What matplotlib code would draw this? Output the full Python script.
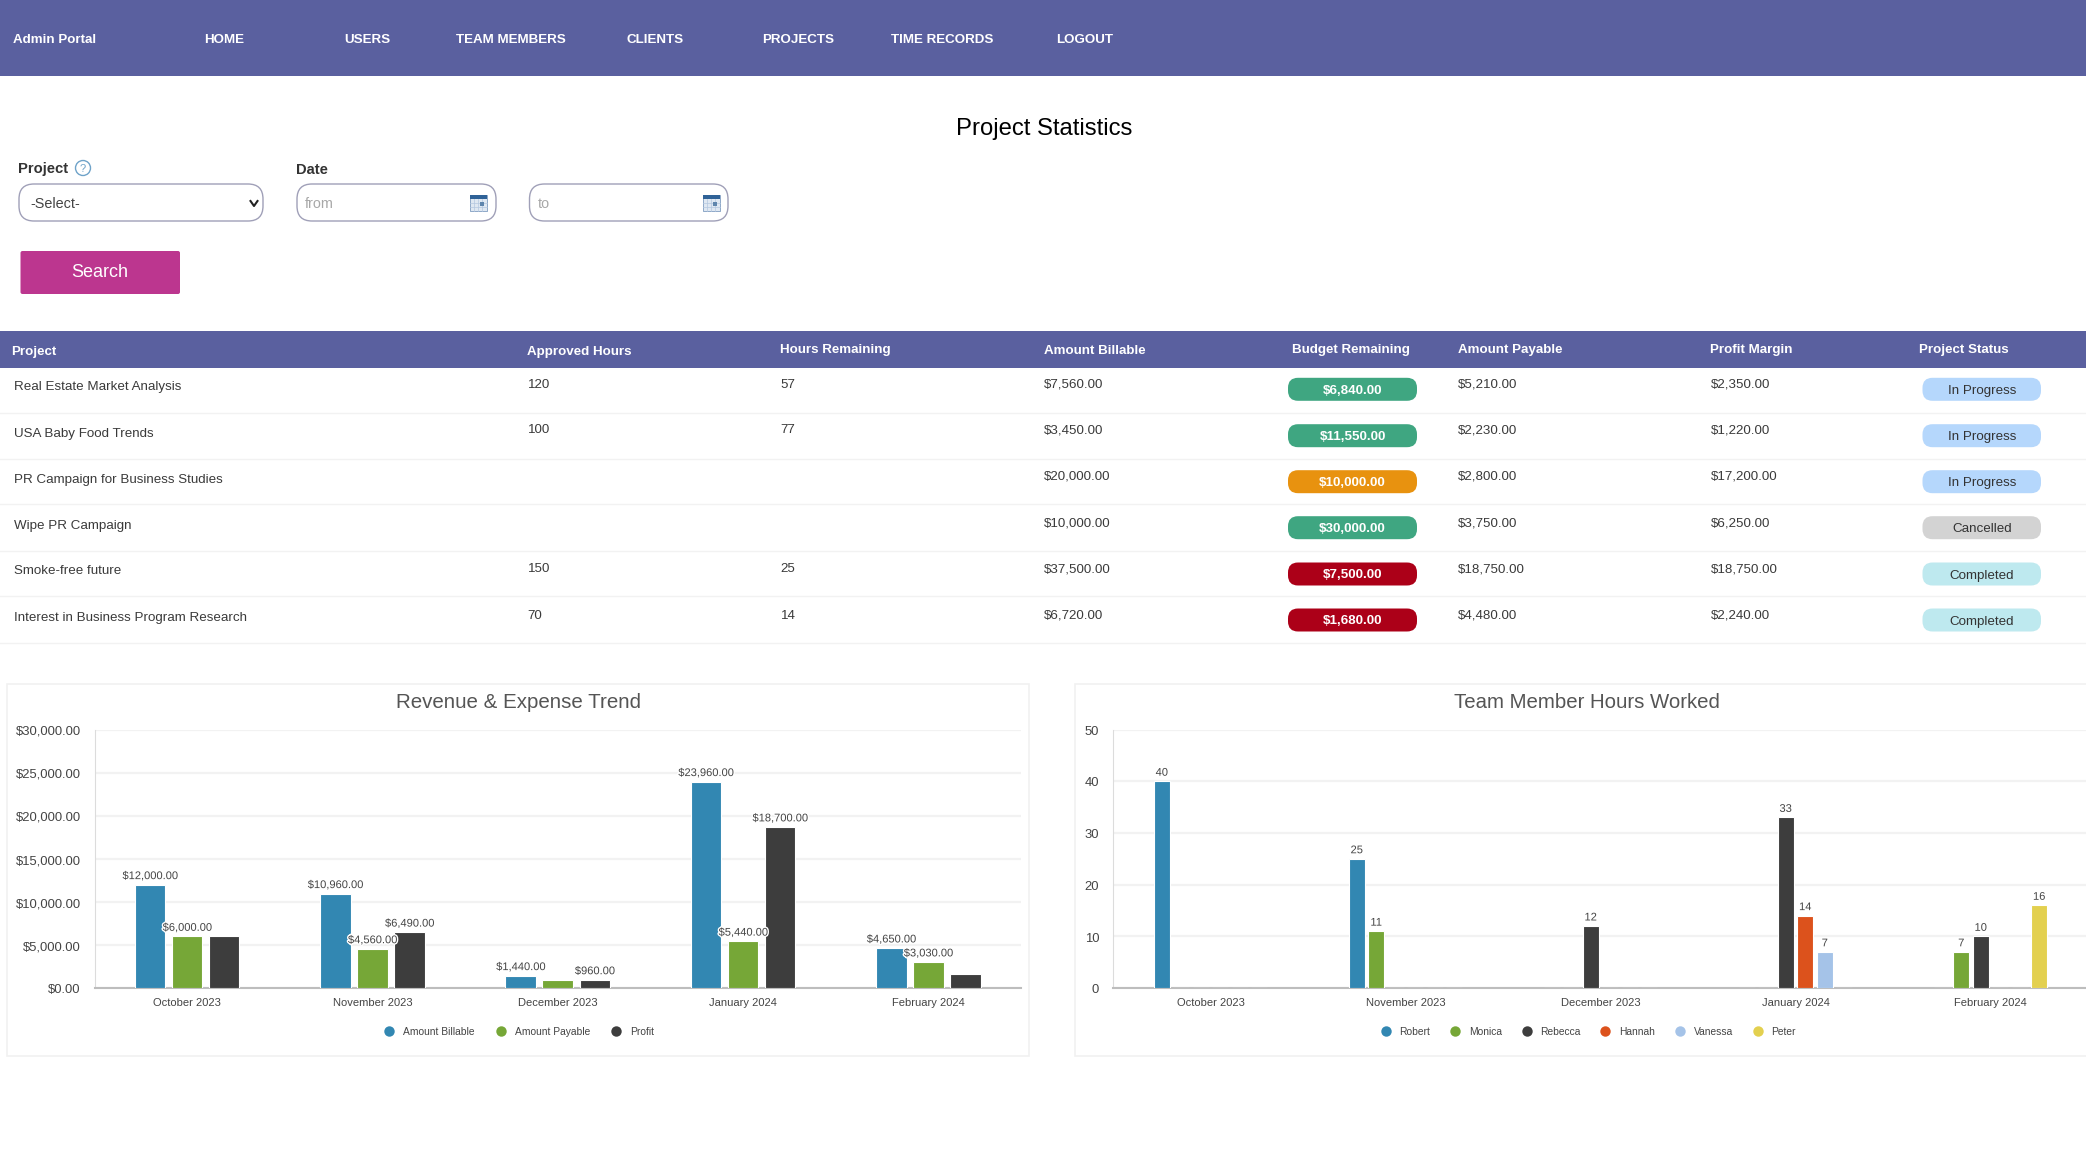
import matplotlib
matplotlib.use("Agg")
import matplotlib.pyplot as plt
import matplotlib.patheffects as pe
from matplotlib.lines import Line2D
from matplotlib.patches import FancyBboxPatch, Rectangle, Circle
from matplotlib.transforms import ScaledTranslation
import numpy as np

plt.rcParams["font.family"] = ["Liberation Sans", "DejaVu Sans"]

W, H = 2086, 1173

# ── Data ──────────────────────────────────────────────────────────────────────
nav_items = ["HOME", "USERS", "TEAM MEMBERS", "CLIENTS", "PROJECTS", "TIME RECORDS", "LOGOUT"]

table_headers = ["Project", "Approved Hours", "Hours Remaining", "Amount Billable",
                 "Budget Remaining", "Amount Payable", "Profit Margin", "Project Status"]
projects = ["Real Estate Market Analysis", "USA Baby Food Trends", "PR Campaign for Business Studies",
            "Wipe PR Campaign", "Smoke-free future", "Interest in Business Program Research"]
approved_hours = ["120", "100", "", "", "150", "70"]
hours_remaining = ["57", "77", "", "", "25", "14"]
amount_billable = ["$7,560.00", "$3,450.00", "$20,000.00", "$10,000.00", "$37,500.00", "$6,720.00"]
budget_remaining = ["$6,840.00", "$11,550.00", "$10,000.00", "$30,000.00", "$7,500.00", "$1,680.00"]
budget_colors = ["#3fa681", "#3fa681", "#e8920f", "#3fa681", "#ac0018", "#ac0018"]
amount_payable = ["$5,210.00", "$2,230.00", "$2,800.00", "$3,750.00", "$18,750.00", "$4,480.00"]
profit_margin = ["$2,350.00", "$1,220.00", "$17,200.00", "$6,250.00", "$18,750.00", "$2,240.00"]
project_status = ["In Progress", "In Progress", "In Progress", "Cancelled", "Completed", "Completed"]

months = ["October 2023", "November 2023", "December 2023", "January 2024", "February 2024"]

rev_billable = [12000, 10960, 1440, 23960, 4650]
rev_payable = [6000, 4560, 960, 5440, 3030]
rev_profit = [6000, 6490, 960, 18700, 1600]
# Highcharts hid the overlapping labels
rev_billable_shown = [True, True, True, True, True]
rev_payable_shown = [True, True, False, True, True]
rev_profit_shown = [False, True, True, True, False]

robert = [40, 25, 0, 0, 0]
monica = [0, 11, 0, 0, 7]
rebecca = [0, 0, 12, 33, 10]
hannah = [0, 0, 0, 14, 0]
vanessa = [0, 0, 0, 7, 0]
peter = [0, 0, 0, 0, 16]

BLUE, GREEN, DARK = "#3287b2", "#76a737", "#3d3d3d"
ORANGE, LIGHT, YELLOW = "#dc521c", "#a5c3e8", "#e3d04f"
NAVY = "#5a609f"
STATUS_COLORS = {"In Progress": "#b5d7fc", "Cancelled": "#d3d3d3", "Completed": "#bee9ef"}
TEXT = "#3a3a3a"


# ── Helpers ───────────────────────────────────────────────────────────────────

def px_axes(fig, left, top, right, bottom):
    return fig.add_axes([left / W, 1 - bottom / H, (right - left) / W, (bottom - top) / H])


def rounded(ax, x0, y0, x1, y1, radius, face, edge="none", lw=0, z=2):
    ax.add_patch(FancyBboxPatch((x0 + radius, y0 + radius), x1 - x0 - 2 * radius, y1 - y0 - 2 * radius,
                                boxstyle=f"round,pad={radius},rounding_size={radius}",
                                fc=face, ec=edge, lw=lw, zorder=z))


def calendar(ax, x0, y0):
    ax.add_patch(Rectangle((x0, y0), 17, 16, fc="#dfe8f2", ec="#7f9cc0", lw=0.6, zorder=3))
    for dx in [4, 8, 12]:
        ax.plot([x0 + dx, x0 + dx], [y0 + 4, y0 + 16], color="#b4c8e0", lw=0.5, zorder=3)
    for dy in [8, 12]:
        ax.plot([x0, x0 + 17], [y0 + dy, y0 + dy], color="#b4c8e0", lw=0.5, zorder=3)
    ax.add_patch(Rectangle((x0, y0), 17, 4, fc="#2f6297", ec="none", zorder=4))
    ax.add_patch(Rectangle((x0 + 10, y0 + 7), 4, 4, fc="#5f86ad", ec="none", zorder=4))


def page_text(ax, x, y, s, **kw):
    # va=center sits a bit high against the browser text
    kw.setdefault("va", "center")
    return ax.text(x, y + 1.5, s, **kw)


def style_chart(ax, slots, ymax, yticks, ylabels):
    ax.set_xlim(0, slots)
    ax.set_ylim(0, ymax)
    ax.set_yticks(yticks)
    ax.set_yticklabels(ylabels, fontsize=9.4, color="#444444")
    ax.set_xticks(np.arange(5) + 0.5)
    ax.set_xticklabels(months, fontsize=8, color="#444444")
    ax.tick_params(axis="both", length=0)
    ax.tick_params(axis="x", pad=7)
    ax.tick_params(axis="y", pad=10)
    ax.grid(axis="y", color="#f2f2f2", lw=1.6)
    ax.set_axisbelow(True)
    ax.patch.set_alpha(0)
    for side in ["top", "right"]:
        ax.spines[side].set_visible(False)
    ax.spines["left"].set_color("#dcdcdc")
    ax.spines["bottom"].set_color("#bdbdbd")
    ax.spines["bottom"].set_linewidth(1.5)
    down = ScaledTranslation(0, -0.8 / 100, ax.figure.dpi_scale_trans)
    for lab in ax.get_yticklabels():
        lab.set_transform(lab.get_transform() + down)


def bar_label(ax, x, y, text, offset):
    ax.annotate(text, (x, y), xytext=(0, offset), textcoords="offset pixels", ha="center", va="center",
                fontsize=8, color="#444444", zorder=6, annotation_clip=False,
                path_effects=[pe.withStroke(linewidth=2, foreground="white")])


def chart_legend(ax, names, colors, center_x, spacing):
    handles = [Line2D([0], [0], marker="o", ls="none", ms=7.5, mfc=c, mec="none") for c in colors]
    ax.legend(handles, names, loc="center", ncol=len(names), frameon=False, fontsize=7.4,
              labelcolor="#444444", handletextpad=0.35, columnspacing=spacing,
              bbox_to_anchor=(center_x / W, 1 - 1031.7 / H), bbox_transform=ax.figure.transFigure)


# ── Page ──────────────────────────────────────────────────────────────────────
fig = plt.figure(figsize=(W / 100, H / 100), dpi=100, facecolor="white")
ui = fig.add_axes([0, 0, 1, 1])
ui.set_xlim(0, W)
ui.set_ylim(H, 0)
ui.axis("off")

# nav bar
ui.add_patch(Rectangle((0, 0), W, 76, fc=NAVY, ec="none"))
page_text(ui, 13, 38.5, "Admin Portal", color="white", fontsize=9.6, fontweight="bold")
nav_x = [224, 367.5, 511, 655, 798, 942, 1085]
for x, item in zip(nav_x, nav_items):
    page_text(ui, x, 38.5, item, color="white", fontsize=9.6, fontweight="bold", ha="center")

page_text(ui, 1044, 127, "Project Statistics", color="black", fontsize=17.2, ha="center")

# filter form
page_text(ui, 18, 168, "Project", color="#333333", fontsize=10.6, fontweight="bold")
ui.add_patch(Circle((83, 168), 7.5, fc="white", ec="#6fa3c9", lw=1))
page_text(ui, 83, 167, "?", color="#6fa3c9", fontsize=8, ha="center")
page_text(ui, 296, 168, "Date", color="#333333", fontsize=10.6, fontweight="bold")
for x0, x1 in [(19, 263), (297, 496), (529.5, 728)]:
    rounded(ui, x0, 184, x1, 221, 15, "white", "#a0a0b8", 1.0)
page_text(ui, 30, 203, "-Select-", color="#444444", fontsize=10.4)
ui.plot([250.5, 254, 257.5], [201, 206, 201], color="#222222", lw=1.5, zorder=4)
page_text(ui, 305, 203, "from", color="#a8a8a8", fontsize=10.4)
page_text(ui, 538, 203, "to", color="#a8a8a8", fontsize=10.4)
calendar(ui, 470, 195)
calendar(ui, 703, 195)
rounded(ui, 20.5, 251, 180, 294, 2, "#bc368f")
page_text(ui, 100, 271, "Search", color="white", fontsize=13, ha="center", zorder=4)

# table
ui.add_patch(Rectangle((0, 331), W, 36.5, fc=NAVY, ec="none"))
header_x = [11, 527, 780.5, 1044, 1291.5, 1458, 1710.5, 1919]
header_y = [350, 350, 349, 349, 349, 349, 349, 349]
for x, y, name in zip(header_x, header_y, table_headers):
    page_text(ui, x, y, name, color="white", fontsize=9.6, fontweight="bold")

row_lines = [412.7, 459, 504.3, 551.3, 596.3, 643.3]
name_y = [385.7, 432.3, 478, 524.7, 570, 616.7]
value_y = [383.3, 428.7, 475.3, 522, 567.7, 614.3]
pill_y = [389.3, 435.7, 481.7, 527.7, 574, 620]
for i in range(6):
    ui.plot([0, W], [row_lines[i]] * 2, color="#f2f2f2", lw=1)
    page_text(ui, 13.5, name_y[i], projects[i], color=TEXT, fontsize=9.6)
    page_text(ui, 527.5, value_y[i], approved_hours[i], color=TEXT, fontsize=9.6)
    page_text(ui, 780.5, value_y[i], hours_remaining[i], color=TEXT, fontsize=9.6)
    page_text(ui, 1044, value_y[i], amount_billable[i], color=TEXT, fontsize=9.6)
    page_text(ui, 1458, value_y[i], amount_payable[i], color=TEXT, fontsize=9.6)
    page_text(ui, 1710.5, value_y[i], profit_margin[i], color=TEXT, fontsize=9.6)
    rounded(ui, 1288, pill_y[i] - 11.5, 1417, pill_y[i] + 11.5, 10, budget_colors[i])
    page_text(ui, 1352.5, pill_y[i], budget_remaining[i], color="white", fontsize=9.6, fontweight="bold",
              ha="center", zorder=4)
    rounded(ui, 1922.5, pill_y[i] - 11.5, 2041, pill_y[i] + 11.5, 10, STATUS_COLORS[project_status[i]])
    page_text(ui, 1981.7, pill_y[i], project_status[i], color="#333333", fontsize=9.6, ha="center", zorder=4)

# chart cards
ui.add_patch(Rectangle((7, 684), 1022, 372, fc="white", ec="#f1f1f1", lw=1.2))
ui.add_patch(Rectangle((1075, 684), 1030, 372, fc="white", ec="#f1f1f1", lw=1.2))
page_text(ui, 518, 701.5, "Revenue & Expense Trend", color="#555555", fontsize=14.8, ha="center")
page_text(ui, 1587, 701.5, "Team Member Hours Worked", color="#555555", fontsize=14.7, ha="center")

# ── Revenue chart ─────────────────────────────────────────────────────────────
ax1 = px_axes(fig, 94.5, 729.5, 1021, 988)
rev_series = [(rev_billable, rev_billable_shown, BLUE), (rev_payable, rev_payable_shown, GREEN),
              (rev_profit, rev_profit_shown, DARK)]
pos = np.arange(5) + 0.5
for k, (vals, shown, color) in enumerate(rev_series):
    xs = pos + (k - 1) * 0.2
    ax1.bar(xs, vals, width=0.165, color=color, edgecolor="white", linewidth=0.8, zorder=3)
    for x, v, s in zip(xs, vals, shown):
        if s:
            bar_label(ax1, x, v, f"${v:,.2f}", 8.5)
style_chart(ax1, 5, 30000, [0, 5000, 10000, 15000, 20000, 25000, 30000],
            [f"${v:,.2f}" for v in [0, 5000, 10000, 15000, 20000, 25000, 30000]])
chart_legend(ax1, ["Amount Billable", "Amount Payable", "Profit"], [BLUE, GREEN, DARK], 516.5, 1.55)

# ── Hours chart ───────────────────────────────────────────────────────────────
ax2 = px_axes(fig, 1113, 729.5, 2088, 988)
hour_series = [robert, monica, rebecca, hannah, vanessa, peter]
hour_colors = [BLUE, GREEN, DARK, ORANGE, LIGHT, YELLOW]
for k, (vals, color) in enumerate(zip(hour_series, hour_colors)):
    xs = pos + (k - 2.5) * 0.1
    ax2.bar(xs, vals, width=0.08, color=color, edgecolor="white", linewidth=0.8, zorder=3)
    for x, v in zip(xs, vals):
        if v:
            bar_label(ax2, x, v, str(v), 8.5)
style_chart(ax2, 5, 50, [0, 10, 20, 30, 40, 50], ["0", "10", "20", "30", "40", "50"])
chart_legend(ax2, ["Robert", "Monica", "Rebecca", "Hannah", "Vanessa", "Peter"], hour_colors, 1585.7, 1.4)

fig.savefig("out.png", dpi=100)
